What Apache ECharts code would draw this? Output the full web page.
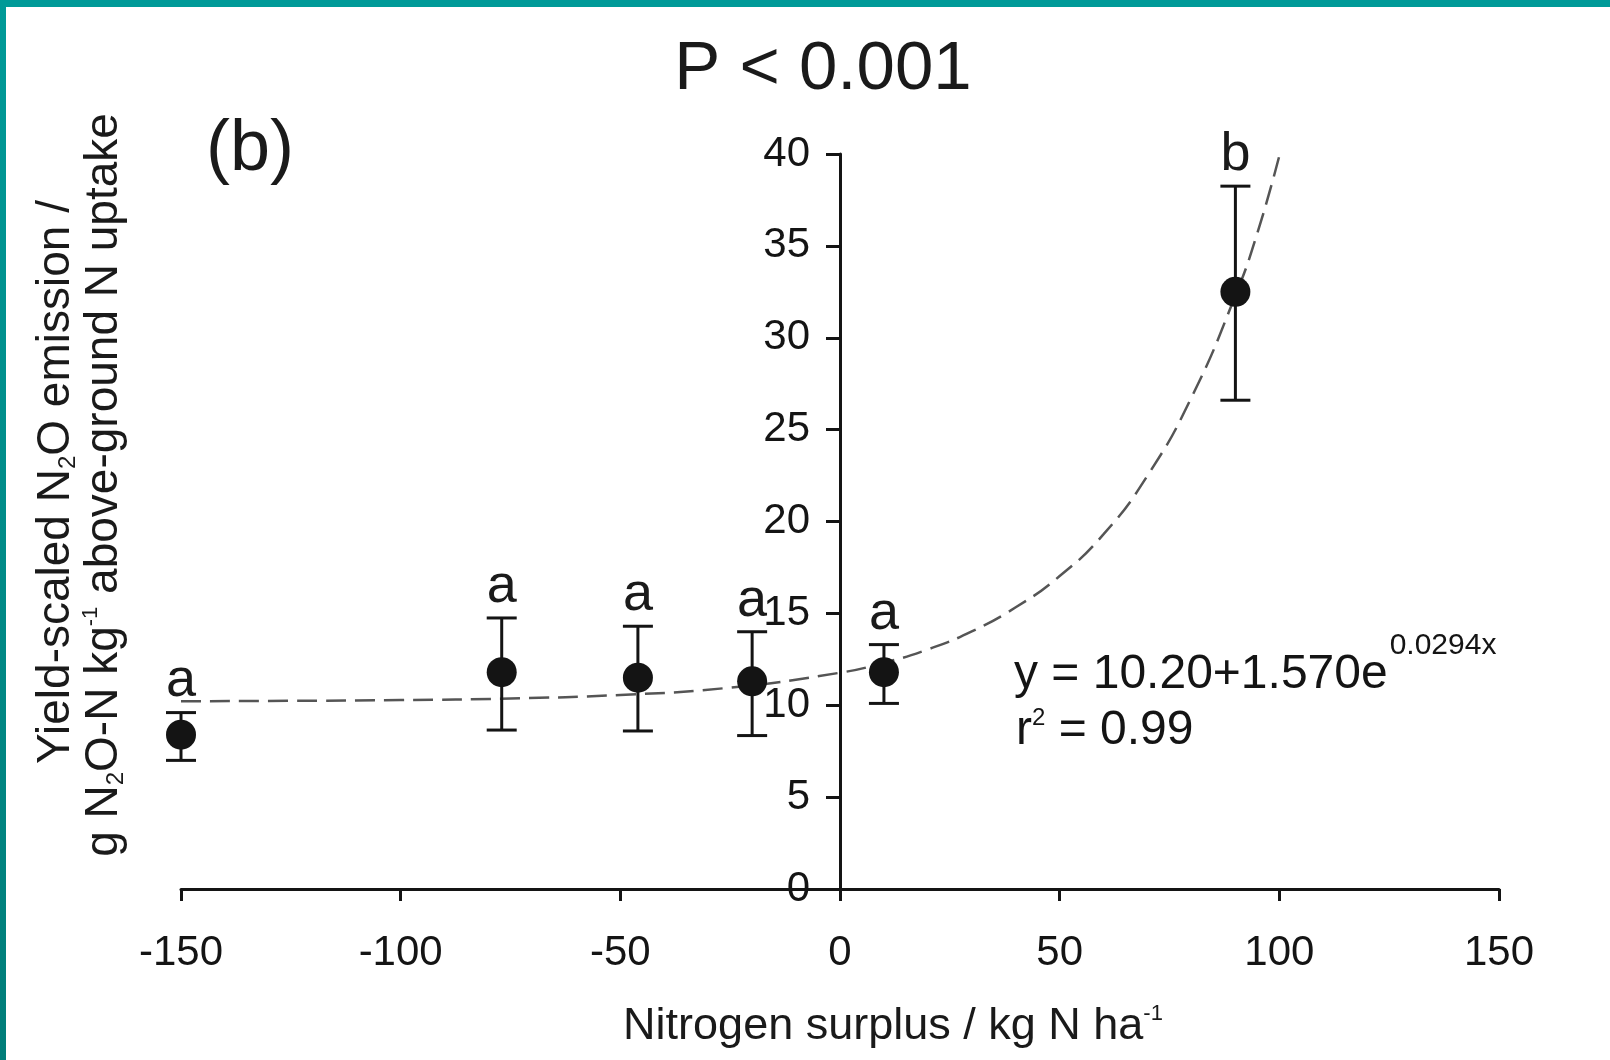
<!DOCTYPE html>
<html>
<head>
<meta charset="utf-8">
<title>Yield-scaled N2O emission vs nitrogen surplus</title>
<script src="https://cdn.jsdelivr.net/npm/echarts@6/dist/echarts.min.js"></script>
<style>
  html, body { margin: 0; padding: 0; background: #fff; }
  #chart { width: 1610px; height: 1060px; }
</style>
</head>
<body>
<div id="chart"></div>
<script>
// treatment means with error bars
const surplus = [-150, -77, -46, -20, 10, 90]
const emission = [8.4, 11.8, 11.5, 11.3, 11.8, 32.5]
const errLow = [7.0, 8.65, 8.6, 8.35, 10.1, 26.6]
const errHigh = [9.6, 14.75, 14.3, 14.0, 13.3, 38.25]
const groups = ['a', 'a', 'a', 'a', 'a', 'b']

// dashed fitted curve
const fitX = [-150, -125, -100, -75, -50, -25, 0, 10, 20, 30, 40, 50, 60, 70, 80, 90, 95, 100]
const fitY = [10.22, 10.24, 10.28, 10.37, 10.56, 10.96, 11.77, 12.31, 13.04, 14.02, 15.33, 17.03, 19.31, 22.5, 26.75, 32.3, 35.7, 39.9]

const font = 'Liberation Sans, Arial, sans-serif'
const ink = '#141414'

const grid = {left: 181, right: 111, top: 154, bottom: 171}
const xMin = -150, xMax = 150

// the y axis sits on x = 0, so shift it in from the grid's left edge
const plotW = 1610 - grid.left - grid.right
const yAxisShift = plotW * (0 - xMin) / (xMax - xMin)

// width of the equation text, so the exponent follows it
function textWidth(str, size) {
  const ctx = document.createElement('canvas').getContext('2d')
  ctx.font = size + 'px ' + font
  return ctx.measureText(str).width
}
const eqText = 'y = 10.20+1.570e'
const eqSize = 48
const eqX = 1014

const chart = echarts.init(document.getElementById('chart'))

chart.setOption({
  animation: false,
  backgroundColor: '#fff',
  grid: Object.assign({outerBoundsMode: 'none'}, grid),
  xAxis: {
    type: 'value',
    min: xMin,
    max: xMax,
    interval: 50,
    splitLine: {show: false},
    axisLine: {onZero: false, lineStyle: {color: ink, width: 3}},
    axisTick: {length: 12, lineStyle: {color: ink, width: 3}},
    axisLabel: {color: ink, fontSize: 42, fontFamily: font, margin: 43}
  },
  yAxis: {
    type: 'value',
    min: 0,
    max: 40,
    interval: 5,
    offset: -yAxisShift,
    splitLine: {show: false},
    axisLine: {onZero: false, lineStyle: {color: ink, width: 3}},
    axisTick: {length: 14, lineStyle: {color: ink, width: 3}},
    axisLabel: {color: ink, fontSize: 42, fontFamily: font, margin: 30}
  },
  series: [
    {
      type: 'line',
      data: fitX.map((x, i) => [x, fitY[i]]),
      smooth: true,
      symbol: 'none',
      lineStyle: {color: '#555', width: 2.5, type: [20, 9]},
      z: 1
    },
    {
      type: 'custom',
      data: surplus.map((x, i) => [x, errLow[i], errHigh[i]]),
      renderItem: function (params, api) {
        const x = api.value(0)
        const top = api.coord([x, api.value(2)])
        const bottom = api.coord([x, api.value(1)])
        const cap = 15
        const style = {stroke: ink, lineWidth: 3}
        return {
          type: 'group',
          children: [
            {type: 'line', shape: {x1: top[0], y1: top[1], x2: bottom[0], y2: bottom[1]}, style: style},
            {type: 'line', shape: {x1: top[0] - cap, y1: top[1], x2: top[0] + cap, y2: top[1]}, style: style},
            {type: 'line', shape: {x1: bottom[0] - cap, y1: bottom[1], x2: bottom[0] + cap, y2: bottom[1]}, style: style},
            {
              type: 'text',
              x: top[0],
              y: top[1] - 4,
              style: {
                text: groups[params.dataIndex],
                fontSize: 54,
                fontFamily: font,
                fill: '#1a1a1a',
                align: 'center',
                verticalAlign: 'bottom'
              }
            }
          ]
        }
      },
      z: 2
    },
    {
      type: 'scatter',
      data: surplus.map((x, i) => [x, emission[i]]),
      symbolSize: 30,
      itemStyle: {color: ink, opacity: 1},
      z: 3
    }
  ],
  graphic: [
    // teal frame on top and left edge
    {type: 'rect', shape: {x: 0, y: 0, width: 1610, height: 7}, style: {fill: '#009a98'}},
    {
      type: 'rect',
      shape: {x: 0, y: 0, width: 6, height: 1060},
      style: {
        fill: new echarts.graphic.LinearGradient(0, 0, 0, 1, [
          {offset: 0, color: '#009a98'},
          {offset: 1, color: '#007d79'}
        ])
      }
    },
    {
      type: 'text', x: 823, y: 70,
      style: {text: 'P < 0.001', fontSize: 69, fontFamily: font, fill: '#1a1a1a', align: 'center', verticalAlign: 'middle'}
    },
    {
      type: 'text', x: 250, y: 150,
      style: {text: '(b)', fontSize: 72, fontFamily: font, fill: '#1a1a1a', align: 'center', verticalAlign: 'middle'}
    },
    // fitted equation
    {
      type: 'text', x: eqX, y: 675,
      style: {text: eqText, fontSize: eqSize, fontFamily: font, fill: ink, align: 'left', verticalAlign: 'middle'}
    },
    {
      type: 'text', x: eqX + textWidth(eqText, eqSize) + 2, y: 646,
      style: {text: '0.0294x', fontSize: 30, fontFamily: font, fill: ink, align: 'left', verticalAlign: 'middle'}
    },
    {
      type: 'text', x: 1016, y: 731,
      style: {
        text: '{m|r}{s|2}{m| = 0.99}',
        align: 'left',
        verticalAlign: 'middle',
        rich: {
          m: {fontSize: 48, fontFamily: font, fill: ink, lineHeight: 50},
          s: {fontSize: 24, fontFamily: font, fill: ink, verticalAlign: 'top'}
        }
      }
    },
    // axis titles
    {
      type: 'text', x: 893, y: 1027,
      style: {
        text: '{t|Nitrogen surplus / kg N ha}{s|-1}',
        align: 'center',
        verticalAlign: 'middle',
        rich: {
          t: {fontSize: 45, fontFamily: font, fill: '#1a1a1a', lineHeight: 48},
          s: {fontSize: 22, fontFamily: font, fill: '#1a1a1a', verticalAlign: 'top'}
        }
      }
    },
    {
      type: 'text', x: 56, y: 482, rotation: Math.PI / 2,
      style: {
        text: '{t|Yield-scaled N}{b|2}{t|O emission /}',
        align: 'center',
        verticalAlign: 'middle',
        rich: {
          t: {fontSize: 46, fontFamily: font, fill: '#1a1a1a', lineHeight: 48},
          b: {fontSize: 24, fontFamily: font, fill: '#1a1a1a', verticalAlign: 'bottom'}
        }
      }
    },
    {
      type: 'text', x: 104, y: 485, rotation: Math.PI / 2,
      style: {
        text: '{t|g N}{b|2}{t|O-N kg}{s|-1}{t| above-ground N uptake}',
        align: 'center',
        verticalAlign: 'middle',
        rich: {
          t: {fontSize: 46, fontFamily: font, fill: '#1a1a1a', lineHeight: 48},
          b: {fontSize: 24, fontFamily: font, fill: '#1a1a1a', verticalAlign: 'bottom'},
          s: {fontSize: 22, fontFamily: font, fill: '#1a1a1a', verticalAlign: 'top'}
        }
      }
    }
  ]
})
</script>
</body>
</html>
